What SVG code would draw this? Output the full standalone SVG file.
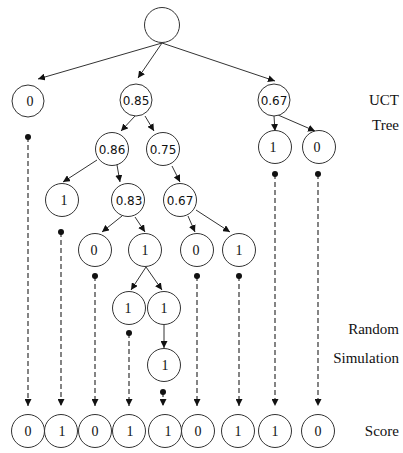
<svg xmlns="http://www.w3.org/2000/svg" width="403" height="453" viewBox="0 0 403 453">
<style>
.n{fill:#fff;stroke:#333;stroke-width:1}
.s{font-family:'Liberation Serif','Times New Roman','DejaVu Serif',serif;font-size:14px;fill:#111;text-anchor:middle}
.d{font-family:'DejaVu Sans',sans-serif;font-size:12px;fill:#111;text-anchor:middle}
.lb{font-family:'Liberation Serif','Times New Roman','DejaVu Serif',serif;font-size:15px;fill:#111;text-anchor:end}
.e{stroke:#333;stroke-width:1;fill:none;marker-end:url(#ah)}
.r{stroke:#333;stroke-width:1.2;fill:none;stroke-dasharray:5,3;marker-start:url(#dot);marker-end:url(#ah)}
</style>
<defs>
<marker id="ah" viewBox="0 0 10 10" refX="10" refY="5" markerWidth="7" markerHeight="7" markerUnits="userSpaceOnUse" orient="auto"><path d="M0,0L10,5L0,10z" fill="#111"/></marker>
<marker id="dot" viewBox="0 0 10 10" refX="5" refY="5" markerWidth="6" markerHeight="6" markerUnits="userSpaceOnUse"><circle cx="5" cy="5" r="5" fill="#111"/></marker>
</defs>
<g id="connectors">
<line class="e" x1="162" y1="43" x2="38" y2="79"/>
<line class="e" x1="162" y1="43" x2="138" y2="78"/>
<line class="e" x1="162" y1="43" x2="275" y2="81"/>
<line class="e" x1="135" y1="116" x2="121" y2="131"/>
<line class="e" x1="145" y1="116" x2="154" y2="131"/>
<line class="e" x1="274" y1="116" x2="275" y2="131"/>
<line class="e" x1="278" y1="115" x2="315" y2="131"/>
<line class="e" x1="97" y1="160" x2="63" y2="182"/>
<line class="e" x1="117" y1="165" x2="120" y2="182"/>
<line class="e" x1="172" y1="166" x2="180" y2="182"/>
<line class="e" x1="122" y1="216" x2="102" y2="232"/>
<line class="e" x1="135" y1="217" x2="145" y2="232"/>
<line class="e" x1="188" y1="216" x2="195" y2="232"/>
<line class="e" x1="196" y1="210" x2="230" y2="232"/>
<line class="e" x1="146" y1="267" x2="131" y2="290"/>
<line class="e" x1="146" y1="267" x2="162" y2="290"/>
<line class="e" x1="164" y1="325" x2="164" y2="348"/>
<line class="r" x1="28" y1="137" x2="28" y2="406"/>
<line class="r" x1="61" y1="232" x2="61" y2="406"/>
<line class="r" x1="95" y1="276" x2="95" y2="406"/>
<line class="r" x1="129" y1="333" x2="129" y2="406"/>
<line class="r" x1="163" y1="392" x2="163" y2="406"/>
<line class="r" x1="197" y1="276" x2="197" y2="406"/>
<line class="r" x1="239" y1="276" x2="239" y2="406"/>
<line class="r" x1="275" y1="174" x2="275" y2="406"/>
<line class="r" x1="318" y1="174" x2="318" y2="406"/>
</g>
<g id="root"><circle class="n" cx="162" cy="25" r="17.5"/></g>
<g id="n0"><circle class="n" cx="28" cy="101" r="16"/><text class="s" x="30" y="105.5">0</text></g>
<g id="n085"><circle class="n" cx="136" cy="100" r="16"/><text class="d" x="136" y="104.5">0.85</text></g>
<g id="n067a"><circle class="n" cx="274" cy="100" r="16"/><text class="d" x="274" y="104.5">0.67</text></g>
<g id="n086"><circle class="n" cx="112" cy="149" r="16.5"/><text class="d" x="112" y="153.5">0.86</text></g>
<g id="n075"><circle class="n" cx="163" cy="149" r="16.5"/><text class="d" x="163" y="153.5">0.75</text></g>
<g id="n1a"><circle class="n" cx="275" cy="147" r="16.5"/><text class="s" x="273" y="151.5">1</text></g>
<g id="n0a"><circle class="n" cx="319" cy="147" r="16.5"/><text class="s" x="317" y="151.5">0</text></g>
<g id="n1b"><circle class="n" cx="62" cy="200" r="16.5"/><text class="s" x="64" y="204.5">1</text></g>
<g id="n083"><circle class="n" cx="128" cy="200" r="16.5"/><text class="d" x="129" y="204.5">0.83</text></g>
<g id="n067b"><circle class="n" cx="180" cy="200" r="16.5"/><text class="d" x="180" y="204.5">0.67</text></g>
<g id="n0b"><circle class="n" cx="95" cy="250" r="16.5"/><text class="s" x="94" y="254.5">0</text></g>
<g id="n1c"><circle class="n" cx="145" cy="250" r="16.5"/><text class="s" x="145" y="254.5">1</text></g>
<g id="n0c"><circle class="n" cx="197" cy="250" r="16.5"/><text class="s" x="196" y="254.5">0</text></g>
<g id="n1d"><circle class="n" cx="239" cy="250" r="16.5"/><text class="s" x="239" y="254.5">1</text></g>
<g id="n1e"><circle class="n" cx="129" cy="308" r="16.5"/><text class="s" x="128" y="312.5">1</text></g>
<g id="n1f"><circle class="n" cx="164" cy="308" r="16.5"/><text class="s" x="164" y="312.5">1</text></g>
<g id="n1g"><circle class="n" cx="164" cy="365" r="16.5"/><text class="s" x="165" y="369.5">1</text></g>
<g id="s1"><circle class="n" cx="28" cy="431" r="16.5"/><text class="s" x="28" y="435.5">0</text></g>
<g id="s2"><circle class="n" cx="61" cy="431" r="16.5"/><text class="s" x="62" y="435.5">1</text></g>
<g id="s3"><circle class="n" cx="95" cy="431" r="16.5"/><text class="s" x="95" y="435.5">0</text></g>
<g id="s4"><circle class="n" cx="129" cy="431" r="16.5"/><text class="s" x="130" y="435.5">1</text></g>
<g id="s5"><circle class="n" cx="165" cy="431" r="16.5"/><text class="s" x="168" y="435.5">1</text></g>
<g id="s6"><circle class="n" cx="198" cy="431" r="16.5"/><text class="s" x="198" y="435.5">0</text></g>
<g id="s7"><circle class="n" cx="238" cy="431" r="16.5"/><text class="s" x="238" y="435.5">1</text></g>
<g id="s8"><circle class="n" cx="275" cy="431" r="16.5"/><text class="s" x="275" y="435.5">1</text></g>
<g id="s9"><circle class="n" cx="318" cy="431" r="16.5"/><text class="s" x="318" y="435.5">0</text></g>
<g id="labels">
<text class="lb" x="399" y="105">UCT</text>
<text class="lb" x="399" y="130">Tree</text>
<text class="lb" x="399" y="334">Random</text>
<text class="lb" x="399" y="363">Simulation</text>
<text class="lb" x="399" y="436">Score</text>
</g>
</svg>
